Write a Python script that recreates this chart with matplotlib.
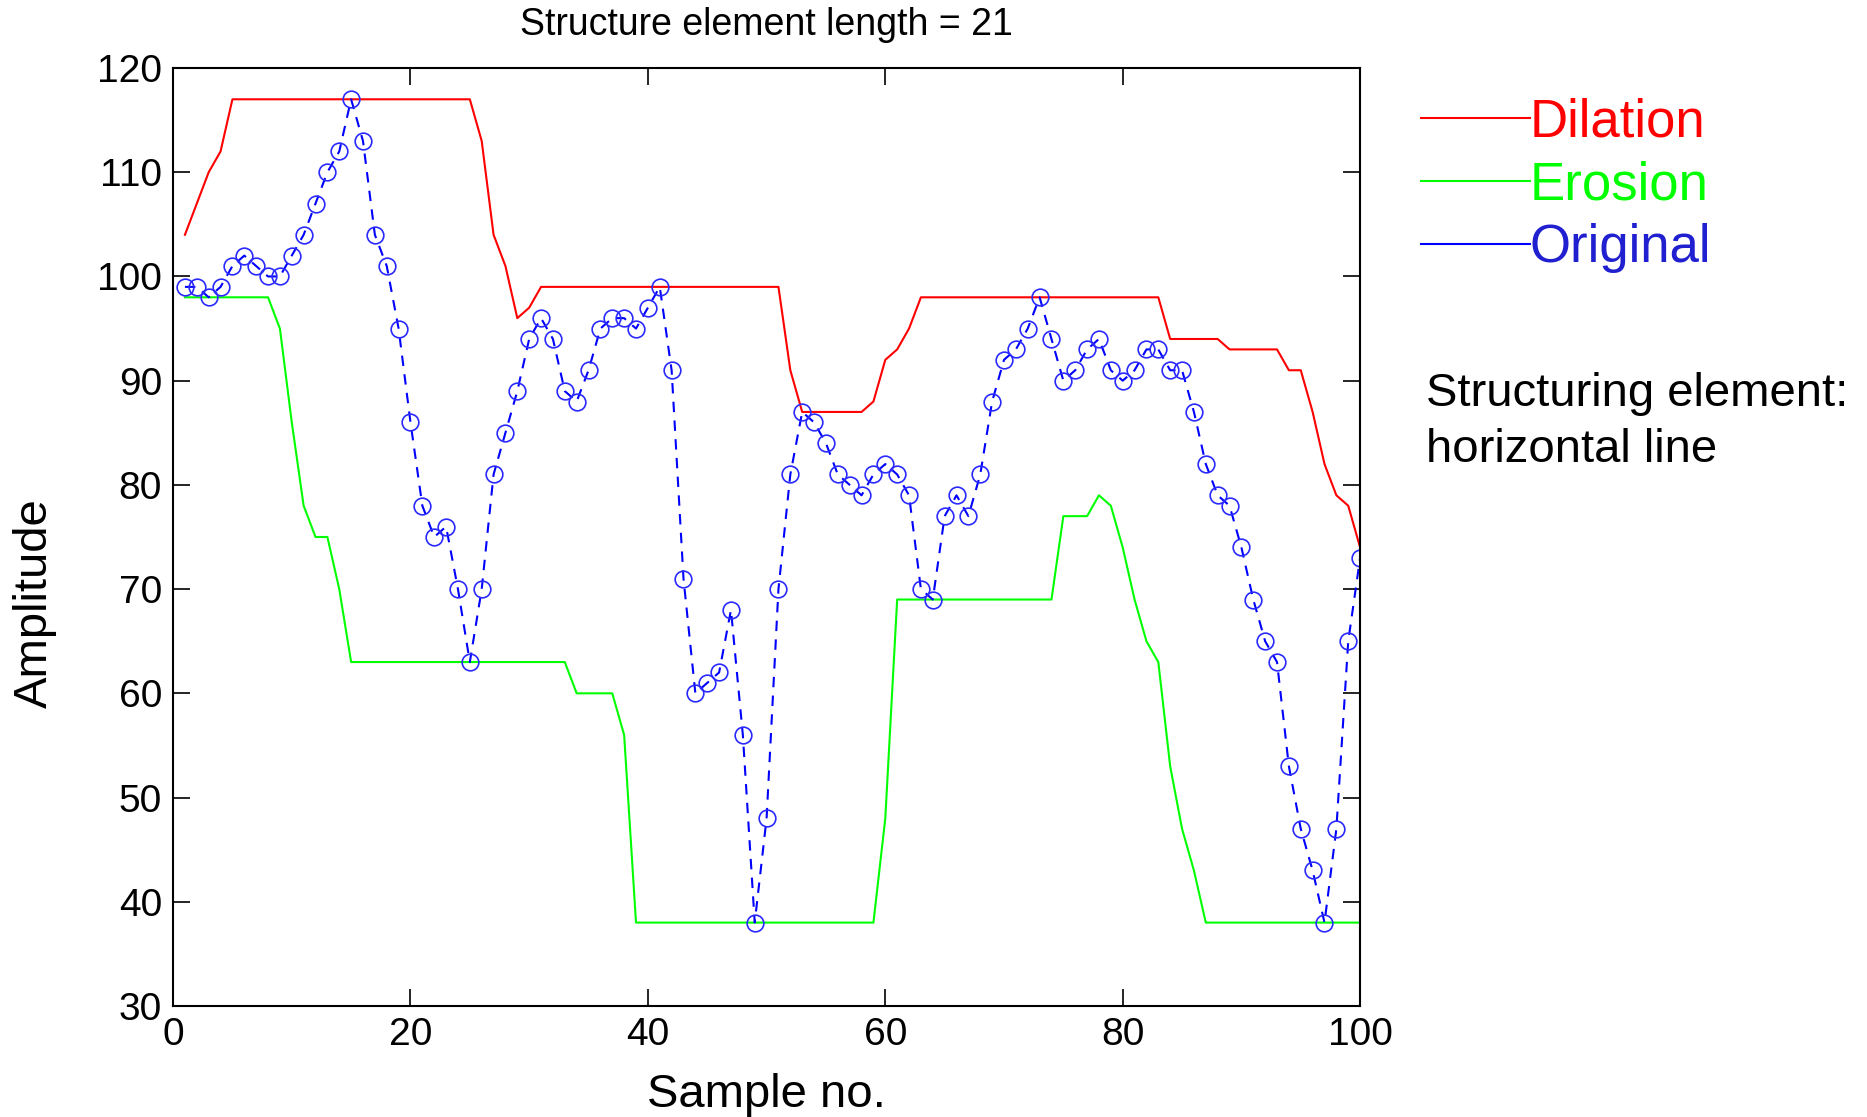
import numpy as np
import matplotlib.pyplot as plt

plt.rcParams['font.family'] = ['Liberation Sans', 'DejaVu Sans']

# sample index and the three signals
samples = np.arange(1, 101)

original = [99, 99, 98, 99, 101, 102, 101, 100, 100, 102,
            104, 107, 110, 112, 117, 113, 104, 101, 95, 86,
            78, 75, 76, 70, 63, 70, 81, 85, 89, 94,
            96, 94, 89, 88, 91, 95, 96, 96, 95, 97,
            99, 91, 71, 60, 61, 62, 68, 56, 38, 48,
            70, 81, 87, 86, 84, 81, 80, 79, 81, 82,
            81, 79, 70, 69, 77, 79, 77, 81, 88, 92,
            93, 95, 98, 94, 90, 91, 93, 94, 91, 90,
            91, 93, 93, 91, 91, 87, 82, 79, 78, 74,
            69, 65, 63, 53, 47, 43, 38, 47, 65, 73]

dilation = ([104, 107, 110, 112] + [117] * 21 + [113, 104, 101, 96, 97]
            + [99] * 21 + [91] + [87] * 6 + [88, 92, 93, 95] + [98] * 21
            + [94] * 5 + [93] * 5 + [91, 91] + [87, 82, 79, 78, 74])

erosion = ([98] * 8 + [95, 86, 78, 75, 75, 70] + [63] * 19 + [60] * 4
           + [56] + [38] * 21 + [48] + [69] * 14 + [77] * 3
           + [79, 78, 74, 69, 65, 63, 53, 47, 43] + [38] * 14)

fig = plt.figure(figsize=(18.67, 11.17), dpi=100)
ax = fig.add_axes([0.0927, 0.0994, 0.6358, 0.8397])

l1, = ax.plot(samples, dilation, color='#ff0000', lw=1.5, label='Dilation')
l2, = ax.plot(samples, erosion, color='#00ff00', lw=1.5, label='Erosion')
l3, = ax.plot(samples, original, color='#0000ff', lw=1.5, ls=(0, (5, 4)),
              marker='o', ms=12, mfc='none', mec='#2a2aff', mew=1.2,
              label='Original')

ax.set_xlim(0, 100)
ax.set_ylim(30, 120)
ax.set_xticks(range(0, 101, 20))
ax.set_yticks(range(30, 121, 10))
ax.tick_params(direction='in', length=12, width=1.2, labelsize=28,
               top=True, right=True, pad=8)
for s in ax.spines.values():
    s.set_linewidth(1.5)

ax.set_title('Structure element length = 21', fontsize=27, pad=24)
ax.set_xlabel('Sample no.', fontsize=34, labelpad=14)
ax.set_ylabel('Amplitude', fontsize=34)
ax.yaxis.set_label_coords(-0.098, 0.43)

leg = fig.legend(handles=[l1, l2, l3], loc='upper left',
                 bbox_to_anchor=(0.75, 0.932), frameon=False, fontsize=38,
                 handlelength=2.05, handletextpad=0.0, labelspacing=0.25,
                 borderaxespad=0)
for txt, col in zip(leg.get_texts(), ['#ff0000', '#00ff00', '#2020d0']):
    txt.set_color(col)
# legend handles without markers
leg.legend_handles[2].set_marker('')
leg.legend_handles[2].set_linestyle('-')

fig.text(0.764, 0.667, 'Structuring element:\nhorizontal line',
         fontsize=34, va='top', ha='left', linespacing=1.35)

fig.savefig('out.png', dpi=100)
